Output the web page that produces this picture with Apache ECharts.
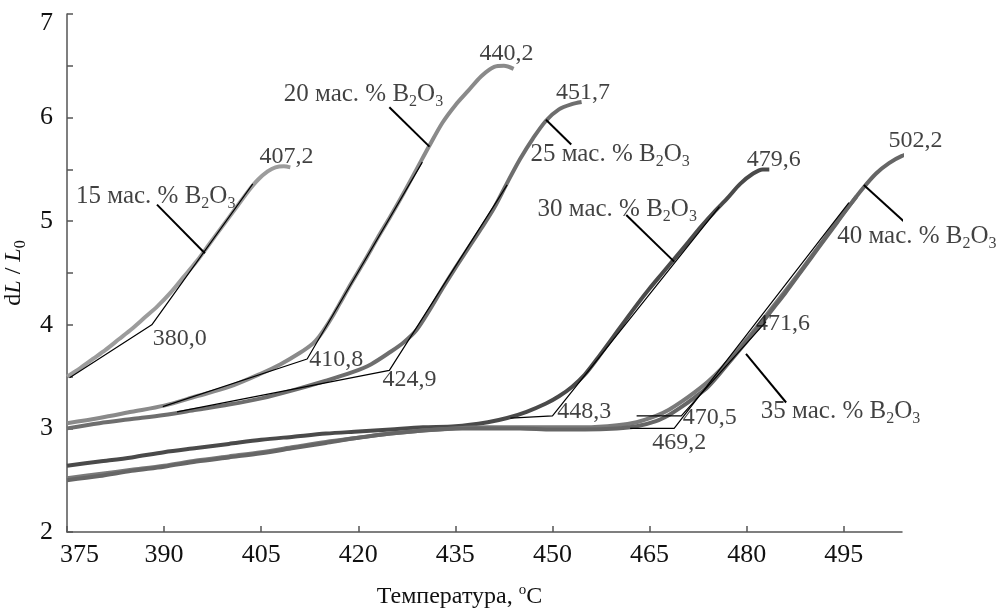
<!DOCTYPE html>
<html>
<head>
<meta charset="utf-8">
<script src="https://cdn.jsdelivr.net/npm/echarts@6/dist/echarts.min.js"></script>
<style>
html, body { margin: 0; padding: 0; background: #fff; }
#chart { width: 1000px; height: 612px; }
</style>
</head>
<body>
<div id="chart"></div>
<script>
// dL/L0 vs temperature, one curve per B2O3 content
var curve15 = [[375, 3.50], [377, 3.58], [379, 3.67], [381, 3.76], [383, 3.86], [385, 3.96], [387, 4.07], [389, 4.18],
  [391, 4.31], [393, 4.46], [395, 4.61], [397, 4.78], [399, 4.95], [401, 5.12], [403, 5.29], [404.5, 5.40],
  [406, 5.48], [407.2, 5.52], [408.5, 5.53], [409.5, 5.52]];
var curve20 = [[375, 3.05], [380, 3.10], [385, 3.16], [390, 3.22], [395, 3.31], [400, 3.40], [405, 3.53], [408, 3.62],
  [411, 3.73], [413, 3.82], [414, 3.89], [415, 3.98], [416, 4.08], [417, 4.19], [419, 4.41], [421, 4.62], [423, 4.84],
  [425, 5.05], [427, 5.27], [429, 5.50], [431, 5.73], [433, 5.95], [435, 6.12], [437, 6.26], [439, 6.40],
  [441, 6.49], [442.5, 6.50], [444, 6.47]];
var curve25 = [[375, 3.00], [380, 3.05], [385, 3.09], [390, 3.13], [395, 3.18], [400, 3.23], [405, 3.29], [410, 3.37],
  [415, 3.46], [419, 3.54], [422, 3.62], [425, 3.74], [427, 3.83], [429, 3.95], [431, 4.14], [433, 4.35], [435, 4.55],
  [437, 4.74], [439, 4.93], [441, 5.13], [443, 5.37], [445, 5.60], [447, 5.80], [449, 5.97], [451, 6.08],
  [453, 6.13], [454.5, 6.15]];
var curve30 = [[375, 2.64], [380, 2.68], [385, 2.72], [390, 2.77], [395, 2.81], [400, 2.85], [405, 2.89], [410, 2.92],
  [415, 2.95], [420, 2.97], [425, 2.99], [430, 3.01], [435, 3.02], [440, 3.06], [443, 3.10], [446, 3.16], [449, 3.24],
  [451, 3.31], [453, 3.40], [455, 3.52], [457, 3.68], [459, 3.85], [461, 4.02], [463, 4.19], [465, 4.35],
  [467, 4.50], [469, 4.65], [471, 4.80], [473, 4.95], [475, 5.09], [477, 5.22], [479, 5.36], [481, 5.46],
  [482.5, 5.50], [483.5, 5.50]];
var curve35 = [[375, 2.52], [380, 2.56], [385, 2.60], [390, 2.64], [395, 2.69], [400, 2.73], [405, 2.77], [410, 2.82],
  [415, 2.87], [420, 2.91], [425, 2.95], [430, 2.98], [435, 3.00], [440, 3.01], [445, 3.01], [450, 3.01],
  [455, 3.01], [460, 3.03], [463, 3.06], [466, 3.12], [468, 3.18], [470, 3.26], [472, 3.35], [474, 3.45],
  [476, 3.57], [478, 3.71], [480, 3.86], [482, 4.01], [484, 4.17], [486, 4.33], [488, 4.49], [490, 4.66],
  [492, 4.83], [494, 5.00], [496, 5.16], [497, 5.24]];
var curve40 = [[375, 2.50], [380, 2.54], [385, 2.59], [390, 2.63], [395, 2.68], [400, 2.72], [405, 2.76], [410, 2.81],
  [415, 2.86], [420, 2.91], [425, 2.95], [430, 2.98], [435, 3.00], [440, 3.00], [445, 3.00], [450, 2.99],
  [455, 2.99], [460, 3.00], [463, 3.02], [466, 3.07], [468, 3.13], [470, 3.21], [472, 3.30], [474, 3.40],
  [476, 3.54], [478, 3.69], [480, 3.84], [482, 3.99], [484, 4.15], [486, 4.31], [488, 4.48], [490, 4.65],
  [492, 4.82], [494, 4.99], [496, 5.16], [498, 5.32], [500, 5.46], [502, 5.56], [504, 5.63], [506, 5.67],
  [507, 5.67]];

// tangent constructions: baseline start -> onset point -> end of steep tangent
var tangents = [
  [[375.4, 3.49], [388.1, 4.00], [403.7, 5.36]],
  [[389.8, 3.21], [412.1, 3.67], [429.9, 5.57]],
  [[392, 3.16], [424.8, 3.56], [443, 5.35]],
  [[443.5, 3.10], [450, 3.12], [475.8, 5.14]],
  [[463, 3.12], [469.9, 3.12], [483, 4.03]],
  [[462, 3.00], [468.8, 3.00], [495.8, 5.18]]
];

// leader lines from the series captions to the curves
var leaders = [
  [[388.9, 5.16], [396.3, 4.69]],
  [[424.8, 6.10], [431, 5.72]],
  [[449, 5.98], [452.9, 5.74]],
  [[461.4, 5.06], [468.8, 4.61]],
  [[479.9, 3.72], [486.1, 3.25]],
  [[498.1, 5.35], [505.5, 4.93]]
];

var onsetLabels = [[392.4, 3.87, '380,0'], [416.6, 3.66, '410,8'], [427.9, 3.47, '424,9'], [454.9, 3.16, '448,3'],
  [469.6, 2.86, '469,2'], [474.3, 3.10, '470,5'], [485.6, 4.01, '471,6']];
var peakLabels = [[408.9, 5.62, '407,2'], [442.9, 6.62, '440,2'], [454.7, 6.24, '451,7'], [484.2, 5.59, '479,6'],
  [506.1, 5.78, '502,2']];
var seriesLabels = [[388.7, 5.24, '15'], [420.8, 6.22, '20'], [458.9, 5.64, '25'], [460, 5.11, '30'],
  [494.5, 3.16, '35'], [506.3, 4.85, '40']];

var xTicks = [375, 390, 405, 420, 435, 450, 465, 480, 495];

var font = '"Liberation Serif", "Times New Roman", serif';
var chart = echarts.init(document.getElementById('chart'));

function curve(data, color, width) {
  return {
    type: 'line', data: data, symbol: 'none', smooth: 0.3, clip: false, silent: true,
    lineStyle: { color: color, width: width }, z: 2
  };
}
function thin(data, width) {
  return {
    type: 'line', data: data, symbol: 'none', clip: false, silent: true,
    lineStyle: { color: '#000', width: width }, z: 3
  };
}

var richText = {
  t: { fontFamily: font, fontSize: 24, lineHeight: 24, color: '#111' },
  c: { fontFamily: font, fontSize: 25, lineHeight: 25, color: '#111' },
  s: { fontFamily: font, fontSize: 16, lineHeight: 16, padding: [14, 0, 0, 0], color: '#111' }
};

var labelItems = [];
onsetLabels.concat(peakLabels).forEach(function (l) {
  labelItems.push({ value: [l[0], l[1]], name: '{t|' + l[2] + '}' });
});
seriesLabels.forEach(function (l) {
  labelItems.push({ value: [l[0], l[1]], name: '{c|' + l[2] + ' мас. % B}{s|2}{c|O}{s|3}' });
});

var series = [
  curve(curve15, '#9c9c9c', 4),
  curve(curve20, '#8a8a8a', 4),
  curve(curve25, '#6e6e6e', 4),
  curve(curve30, '#4a4a4a', 4),
  curve(curve35, '#7a7a7a', 4),
  curve(curve40, '#666666', 4)
];
tangents.forEach(function (t) { series.push(thin(t, 1.2)); });
leaders.forEach(function (t) { series.push(thin(t, 2)); });
series.push({
  type: 'scatter', data: labelItems, symbolSize: 1, clip: false, silent: true, z: 5,
  itemStyle: { color: 'transparent' },
  label: {
    show: true, position: 'inside',
    formatter: function (p) { return p.name; },
    rich: richText
  }
});

var option = {
  backgroundColor: '#fff',
  animation: false,
  grid: { left: 67, right: 98, top: 14, bottom: 80, containLabel: false, outerBoundsMode: 'none' },
  xAxis: {
    type: 'value', min: 375, max: 504, interval: 15,
    name: '{t|Температура, }{u|o}{t|C}',
    nameLocation: 'middle', nameGap: 53,
    nameTextStyle: {
      padding: [0, 50, 0, 0],
      rich: {
        t: { fontFamily: font, fontSize: 24, lineHeight: 24, color: '#111' },
        u: { fontFamily: font, fontSize: 15, lineHeight: 15, padding: [0, 0, 14, 0], color: '#111' }
      }
    },
    axisLine: { show: true, lineStyle: { color: '#555', width: 1.5 } },
    axisTick: { show: true, inside: true, length: 6, customValues: xTicks, lineStyle: { color: '#555', width: 1.5 } },
    axisLabel: {
      customValues: xTicks, fontFamily: font, fontSize: 26, color: '#111', margin: 10,
      formatter: function (v) { return v === 375 ? '{m|375}' : String(v); },
      rich: { m: { fontFamily: font, fontSize: 26, color: '#111', padding: [0, 0, 0, 25] } }
    },
    splitLine: { show: false }
  },
  yAxis: {
    type: 'value', min: 2, max: 7, interval: 0.5,
    name: '{t|d}{i|L}{t| / }{i|L}{s|0}',
    nameLocation: 'middle', nameGap: 34, nameRotate: 90,
    nameTextStyle: {
      rich: {
        t: { fontFamily: font, fontSize: 24, lineHeight: 24, color: '#111' },
        i: { fontFamily: font, fontSize: 24, lineHeight: 24, fontStyle: 'italic', color: '#111' },
        s: { fontFamily: font, fontSize: 16, lineHeight: 16, padding: [14, 0, 0, 0], color: '#111' }
      }
    },
    axisLine: { show: true, lineStyle: { color: '#555', width: 1.5 } },
    axisTick: { show: true, inside: true, length: 6, lineStyle: { color: '#555', width: 1.5 } },
    axisLabel: {
      fontFamily: font, fontSize: 26, color: '#111', margin: 14,
      formatter: function (v) {
        if (!Number.isInteger(v)) return '';
        return v === 7 ? '{top|7}' : String(v);
      },
      rich: { top: { fontFamily: font, fontSize: 26, color: '#111', padding: [18, 0, 0, 0] } }
    },
    splitLine: { show: false }
  },
  series: series
};
chart.setOption(option);
</script>
</body>
</html>
